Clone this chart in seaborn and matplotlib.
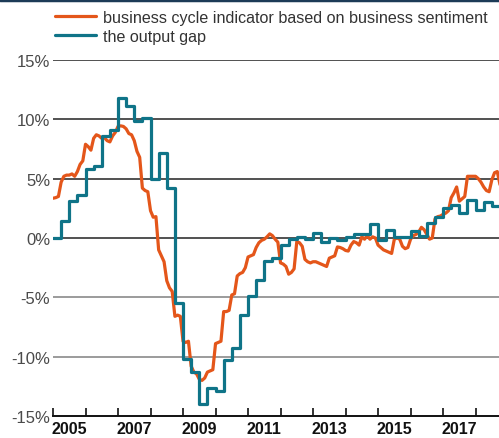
import numpy as np
import pandas as pd
import matplotlib
matplotlib.use("Agg")
import matplotlib.pyplot as plt
import seaborn as sns
from matplotlib.lines import Line2D

# ---- data ----
start_year = 2005
# monthly business cycle indicator (%), Jan 2005 onwards
indicator = [
    3.35, 3.4, 3.5, 4.7, 5.2, 5.3, 5.3, 5.4, 5.2, 5.6, 6.2, 6.5,
    7.9, 7.7, 7.4, 8.4, 8.7, 8.6, 8.4, 8.45, 8.2, 8.1, 8.6, 8.9,
    9.4, 9.45, 9.4, 9.2, 8.8, 8.7, 8.2, 7.3, 6.8, 4.2, 4.0, 3.9,
    2.3, 1.75, 1.8, -1.0, -1.5, -2.0, -3.6, -4.2, -4.5, -6.6, -6.5, -6.6,
    -8.7, -8.8, -8.7, -10.8, -11.3, -11.45, -11.9, -12.0, -11.8, -11.3, -11.2, -11.1,
    -8.9, -8.8, -8.7, -6.2, -6.2, -6.1, -4.8, -4.7, -3.2, -3.0, -2.9, -2.5,
    -1.6, -1.5, -1.4, -0.8, -0.4, -0.2, -0.1, 0.1, 0.35, 0.2, -0.1, -0.35,
    -2.1, -2.2, -2.4, -3.05, -2.9, -2.6, -0.3, -0.4, -0.7, -1.8, -2.0, -2.1,
    -2.0, -2.0, -2.1, -2.2, -2.3, -2.4, -1.7, -1.6, -1.5, -0.75, -0.8, -0.9,
    -1.05, -1.1, -0.6, -0.3, -0.4, -0.6, 0.1, -0.1, 0.2, -0.1, 0.1, 0.0,
    -0.6, -0.8, -1.0, -1.1, -1.2, -1.3, -0.1, 0.0, -0.1, -0.7, -0.9, -0.8,
    -0.1, 0.2, 0.3, 0.5, 0.9, 0.7, 0.3, -0.1, 0.0, 1.6, 1.8, 1.85,
    2.0, 2.1, 2.3, 3.4, 3.8, 4.3, 3.1, 3.3, 3.5, 5.2, 5.2, 5.2,
    5.2, 5.0, 4.7, 4.3, 4.0, 3.9, 4.9, 5.5, 5.6, 4.5,
]
# quarterly output gap (%), 2005Q1 onwards
output_gap = [
    0.0, 1.4, 3.1, 3.6,
    5.8, 6.1, 8.6, 9.1,
    11.8, 11.1, 9.9, 10.1,
    5.0, 7.2, 4.2, -5.5,
    -10.2, -11.3, -14.0, -12.6,
    -12.9, -10.3, -9.3, -6.5,
    -4.9, -3.5, -1.9, -1.7,
    -0.6, -0.1, 0.1, -0.1,
    0.4, -0.3, 0.0, -0.2,
    0.1, 0.3, 0.3, 1.2,
    -0.2, 0.7, 0.1, 0.1,
    0.6, 0.2, 1.3, 1.8,
    2.5, 2.8, 2.1, 3.2,
    2.4, 3.0, 2.7,
]
y_ticks = [15, 10, 5, 0, -5, -10, -15]
y_labels = ["15%", "10%", "5%", "0%", "-5%", "-10%", "-15%"]
year_labels = ["2005", "2007", "2009", "2011", "2013", "2015", "2017"]
series_names = ["business cycle indicator based on business sentiment",
                "the output gap"]

ORANGE = "#e4561a"
TEAL = "#0f7488"

df_ind = pd.DataFrame({
    "t": start_year + np.arange(len(indicator)) / 12.0,
    "v": indicator,
})
gap_vals = output_gap + [output_gap[-1]]
df_gap = pd.DataFrame({
    "t": start_year + np.arange(len(gap_vals)) / 4.0,
    "v": gap_vals,
})

sns.set_theme(style="white")
plt.rcParams["font.family"] = ["Liberation Sans", "DejaVu Sans"]

fig = plt.figure(figsize=(4.99, 4.39), dpi=100)
ax = fig.add_axes([53 / 499, 1 - 417 / 439, 1 - 53 / 499, (417 - 61) / 439])

# grid lines
for v in y_ticks:
    if v == -15:
        continue
    ax.axhline(v, color="#222222" if v >= 0 else "#808080", lw=1.1, zorder=1)

sns.lineplot(data=df_ind, x="t", y="v", ax=ax, color=ORANGE, lw=2.3,
             label=series_names[0], legend=False, zorder=3)
sns.lineplot(data=df_gap, x="t", y="v", ax=ax, color=TEAL, lw=2.3,
             drawstyle="steps-post", label=series_names[1], legend=False, zorder=4)

ax.set_xlim(2005, 2018.72)
ax.set_ylim(-15, 15)
ax.set_xlabel("")
ax.set_ylabel("")

ax.set_yticks(y_ticks)
ax.set_yticklabels(y_labels, fontsize=12, color="#4a4a4a")
ax.tick_params(axis="y", length=0, pad=2)

year_pos = [int(y) + 0.5 for y in year_labels]
ax.set_xticks(year_pos)
ax.set_xticklabels(year_labels, fontsize=11.5, fontweight="bold", color="#111111")
ax.set_xticks(np.arange(2005, 2019), minor=True)
ax.tick_params(axis="x", which="major", length=0, pad=3.5)
ax.tick_params(axis="x", which="minor", direction="in", length=6,
               width=1.2, color="#111111", bottom=True)

for s in ["left", "right", "top"]:
    ax.spines[s].set_visible(False)
ax.spines["bottom"].set_color("#111111")
ax.spines["bottom"].set_linewidth(1.4)

handles = [Line2D([], [], color=ORANGE, lw=2.3), Line2D([], [], color=TEAL, lw=2.3)]
fig.legend(handles, series_names, loc="upper left",
           bbox_to_anchor=(55 / 499, 1 - 11 / 439), frameon=False,
           fontsize=11.6, handlelength=2.55, handletextpad=0.4,
           labelspacing=0.25, borderpad=0, borderaxespad=0,
           labelcolor="#333333")

fig.add_artist(Line2D([0, 1], [0.998, 0.998], color="#1c3b57", lw=2.5,
                      transform=fig.transFigure))

fig.savefig("out.png", dpi=100)
